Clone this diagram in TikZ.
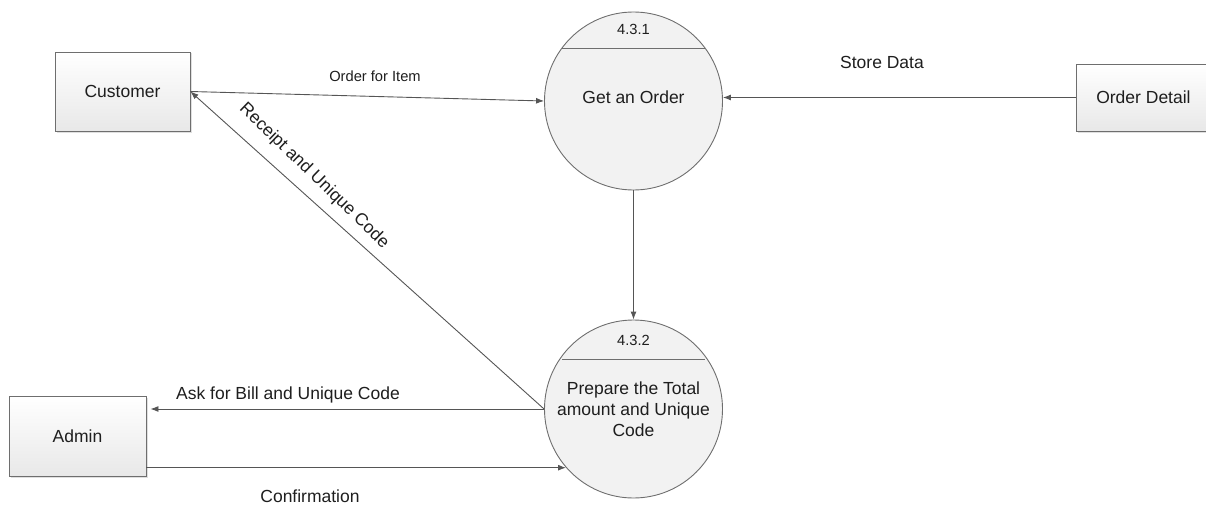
\documentclass[tikz,border=0pt]{standalone}
\usepackage{fontspec}
\setmainfont{Liberation Sans}
\usetikzlibrary{arrows.meta,calc,shadows}
\definecolor{linegray}{HTML}{555555}
\definecolor{edgegray}{HTML}{6E6E6E}
\definecolor{txt}{HTML}{1E1E1E}
\begin{document}
\begin{tikzpicture}[x=1pt,y=-1pt,
  every node/.style={text=txt, font=\fontsize{17.5}{21}\selectfont},
  entity/.style={draw=edgegray, line width=0.9pt, top color=white, bottom color=black!9,
    minimum width=#1, inner sep=0pt,
    drop shadow={shadow xshift=1.5pt, shadow yshift=-1.5pt, opacity=0.25}},
  process/.style={circle, draw=edgegray, line width=0.9pt, fill=black!5,
    minimum size=178pt, inner sep=0pt},
  flow/.style={draw=linegray, line width=0.9pt, -{Latex[length=8pt,width=6pt]}},
  small/.style={font=\fontsize{14.7}{17}\selectfont}]
\useasboundingbox (0,0) rectangle (1206,508);

% external entities
\node[entity=135pt, minimum height=79pt] (cust) at (122.5,91.5) {Customer};
\node[entity=137pt, minimum height=80pt] (admin) at (77.5,436) {Admin};
\node[entity=140pt, minimum height=67pt, anchor=west] (od) at (1076,97.5) {\hspace*{-6pt}Order Detail};

% processes
\node[process] (p1) at (633.5,101) {};
\draw[edgegray, line width=0.9pt] ($(p1.center)+(-71.5,-53)$) -- ($(p1.center)+(71.5,-53)$);
\node[small] (p1id) at ($(p1.center)+(0,-72)$) {4.3.1};
\node (p1t) at ($(p1.center)+(0,-4)$) {Get an Order};

\node[process] (p2) at (633.5,409) {};
\draw[edgegray, line width=0.9pt] ($(p2.center)+(-71.5,-50)$) -- ($(p2.center)+(71.5,-50)$);
\node[small] (p2id) at ($(p2.center)+(0,-69)$) {4.3.2};
\node[align=center, font=\fontsize{17.5}{21}\selectfont] (p2t) at ($(p2.center)+(0,0)$)
  {Prepare the Total\\amount and Unique\\Code};

% data flows
\draw[flow] (cust.east) -- (p1.west);
\node[small] (lorder) at (375,76) {Order for Item};

\draw[flow] (od.west) -- (p1.east |- od.west);
\node (lstore) at (882,62) {Store Data};

\draw[flow] (p1.south) -- (p2.north);

\draw[flow] (p2.west) -- (cust.east);
\node[rotate=-44] (lreceipt) at (314,176) {Receipt and Unique Code};

\draw[flow] (p2.west) -- ([xshift=4pt]admin.east |- p2.west);
\node (lask) at (288,395) {Ask for Bill and Unique Code};

\draw[flow] (p2.221.5 -| admin.east) -- (p2.221.5);
\node (lconf) at (310,496) {Confirmation};
\end{tikzpicture}
\end{document}
